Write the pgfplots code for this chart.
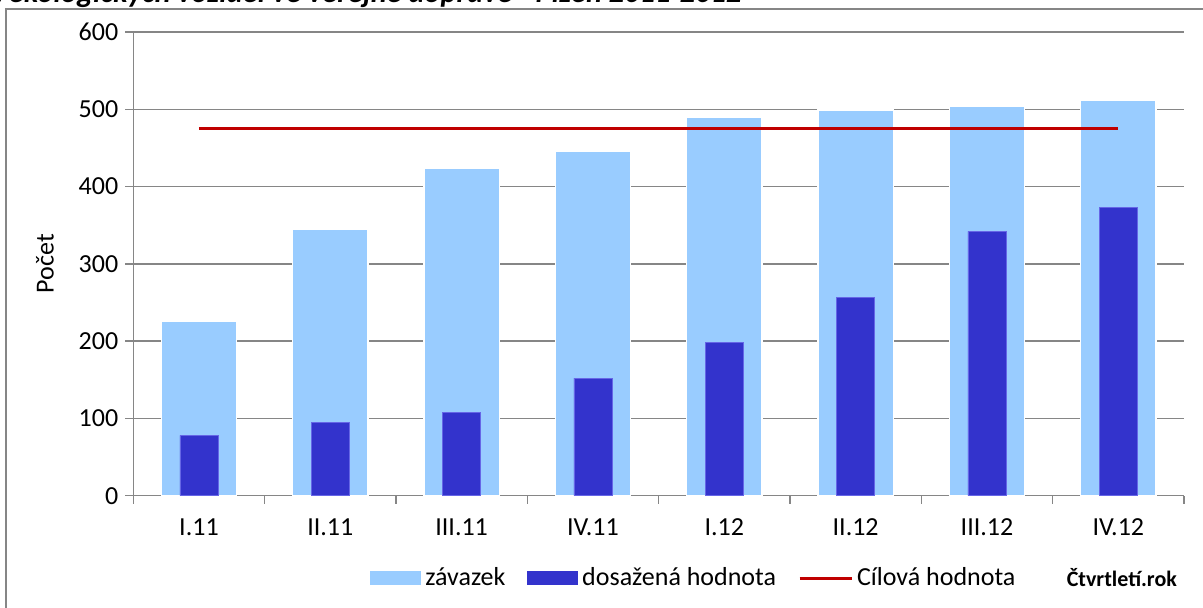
\documentclass[border=0pt]{standalone}
\usepackage{fontspec}
\setmainfont{Carlito}
\usepackage{pgfplots}
\pgfplotsset{compat=1.18}

\definecolor{lightbar}{HTML}{99CCFF}
\definecolor{darkbar}{HTML}{3333CC}
\definecolor{darkedge}{HTML}{6666E6}
\definecolor{target}{HTML}{C00000}
\definecolor{gridgray}{HTML}{868686}

\newcommand{\chartfont}{\fontsize{13}{15.6}\selectfont}

\begin{document}
\begin{tikzpicture}
\useasboundingbox (0,0) rectangle (601.5pt,304pt);
\clip (0,0) rectangle (601.5pt,304pt);

% clipped title and chart frame
\node[anchor=base east, inner sep=0pt,
  font=\fontsize{15.2}{18}\selectfont\bfseries\itshape]
  at (371pt,302.6pt) {Počet ekologických vozidel ve veřejné dopravě - Plzeň 2011-2012};
\draw[gridgray, line width=0.75pt] (3pt,-5pt) -- (3pt,299.5pt) -- (620pt,299.5pt);

\begin{axis}[
  at={(66.65pt,56.15pt)}, anchor=south west,
  scale only axis, width=525.35pt, height=231.85pt,
  xmin=0, xmax=8, ymin=0, ymax=600,
  axis x line*=bottom, axis y line*=left,
  axis line style={gridgray, line width=0.75pt},
  xtick={0,...,8},
  xticklabels={I.11,II.11,III.11,IV.11,I.12,II.12,III.12,IV.12},
  x tick label as interval,
  ytick={0,100,...,600},
  tick align=outside, major tick length=4pt,
  tick style={gridgray, line width=0.75pt},
  ymajorgrids, grid style={gridgray, line width=0.75pt},
  /pgf/number format/assume math mode=true,
  tick label style={font=\chartfont},
  xticklabel style={yshift=-4pt},
  ylabel={Počet},
  every axis y label/.style={at={(axis description cs:-0.0842,0.5)}, rotate=90,
    anchor=center, font=\chartfont},
  xlabel={Čtvrtletí.rok},
  every axis x label/.style={at={(axis description cs:1.0,-0.1775)}, anchor=east,
    font=\fontsize{11}{13}\selectfont\bfseries},
  legend columns=-1,
  legend style={at={(axis description cs:0.225,-0.1775)}, anchor=west, draw=none,
    font=\chartfont, inner sep=0pt,
    /tikz/every even column/.append style={column sep=9pt}},
]
\addplot[ybar, bar width=0.573, bar shift=0pt, fill=lightbar, draw=white, line width=0.6pt,
  legend image code/.code={\fill[lightbar] (0pt,-3.2pt) rectangle (25pt,3.2pt);}]
  coordinates {(0.5,225) (1.5,345) (2.5,424) (3.5,445) (4.5,490) (5.5,499) (6.5,504) (7.5,511)};
\addplot[ybar, bar width=0.29, bar shift=0pt, fill=darkbar, draw=darkedge, line width=0.4pt,
  legend image code/.code={\fill[darkbar] (0pt,-3.2pt) rectangle (25pt,3.2pt);}]
  coordinates {(0.5,78) (1.5,95) (2.5,108) (3.5,152) (4.5,198) (5.5,256) (6.5,342) (7.5,373)};
\addplot[target, line width=1.5pt, sharp plot, mark=none,
  legend image code/.code={\draw[target, line width=1.5pt] (0pt,0pt) -- (26pt,0pt);}]
  coordinates {(0.5,475) (1.5,475) (2.5,475) (3.5,475) (4.5,475) (5.5,475) (6.5,475) (7.5,475)};
\legend{závazek, dosažená hodnota, Cílová hodnota}
\end{axis}
\end{tikzpicture}
\end{document}
